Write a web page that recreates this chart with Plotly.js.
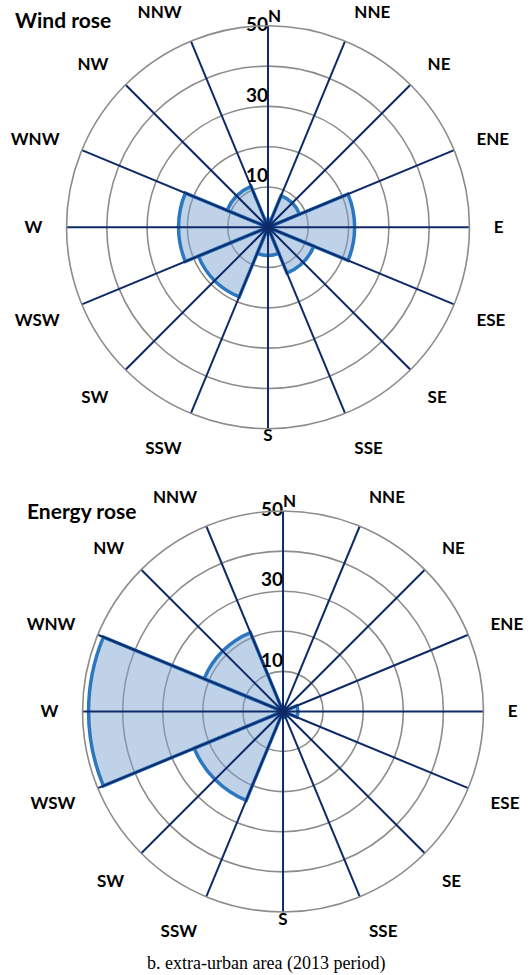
<!DOCTYPE html>
<html>
<head>
<meta charset="utf-8">
<script src="https://cdn.plot.ly/plotly-3.0.1.min.js"></script>
<style>html,body{margin:0;padding:0;background:#fff;}#chart{width:530px;height:975px;}</style>
</head>
<body>
<div id="chart"></div>
<script>
// ---- data ----
const dirLabels = ['N','NNE','NE','ENE','E','ESE','SE','SSE','S','SSW','SW','WSW','W','WNW','NW','NNW'];
const sectors = ['N','NE','E','SE','S','SW','W','NW'];
const windFreq = [2, 8.5, 21.5, 12.3, 7, 18.7, 22.2, 11];
const energyFreq = [1, 1, 3.7, 1.5, 1, 24, 48.5, 21.3];
const radialTicks = [10, 30, 50];
const radialMax = 50;
const titles = ['Wind rose', 'Energy rose'];
const caption = 'b. extra-urban area (2013 period)';

// ---- helpers ----
const step = 360 / dirLabels.length;
const angleOf = d => dirLabels.indexOf(d) * step;
const sectorTheta = sectors.map(angleOf);
const sectorWidth = 360 / sectors.length;
const labelFont = {family:'Lato', size:17, color:'#000', weight:'bold'};

function spokes(sub) {
  const r = [], th = [];
  dirLabels.forEach(d => { r.push(0, radialMax, null); th.push(angleOf(d), angleOf(d), null); });
  return {type:'scatterpolar', subplot:sub, mode:'lines', r:r, theta:th,
    line:{color:'#0f2a68', width:2}, hoverinfo:'skip', showlegend:false, cliponaxis:false};
}
function bars(sub, vals) {
  return {type:'barpolar', subplot:sub, r:vals, theta:sectorTheta, width:sectors.map(()=>sectorWidth),
    marker:{color:'rgba(130,165,210,0.5)', line:{color:'#2c78c0', width:3.5}},
    hoverinfo:'skip', showlegend:false};
}
function radialLabels(sub) {
  return {type:'scatterpolar', subplot:sub, mode:'text', r:radialTicks, theta:radialTicks.map(()=>0),
    text:radialTicks.map(String), textposition:radialTicks.map((v,i)=> i===radialTicks.length-1 ? 'middle left':'top left'),
    textfont:{family:'Lato', size:19, color:'#000', weight:'bold'}, hoverinfo:'skip', showlegend:false, cliponaxis:false};
}
function nsLabels(sub) {
  const ns = ['N','S'];
  return {type:'scatterpolar', subplot:sub, mode:'text', r:ns.map(()=>radialMax), theta:ns.map(angleOf),
    text:ns, textposition:['top right','bottom center'],
    textfont:labelFont, hoverinfo:'skip', showlegend:false, cliponaxis:false};
}
function polarCfg(xd, yd) {
  return {
    domain:{x:xd, y:yd},
    bgcolor:'rgba(0,0,0,0)',
    radialaxis:{range:[0, radialMax], tickvals:[10,20,30,40,50], showticklabels:false, ticks:'',
      showline:false, gridcolor:'#8c8c8c', gridwidth:1.6, angle:90},
    angularaxis:{direction:'clockwise', rotation:90, thetaunit:'degrees', tickmode:'array',
      tickvals:dirLabels.map(angleOf), ticktext:dirLabels.map(l => (l==='N'||l==='S') ? '' : l),
      showgrid:false, showline:true, linecolor:'#8c8c8c', linewidth:1.6,
      ticks:'outside', ticklen:20, tickcolor:'rgba(0,0,0,0)',
      tickfont:labelFont}
  };
}

const data = [
  bars('polar', windFreq), spokes('polar'), radialLabels('polar'), nsLabels('polar'),
  bars('polar2', energyFreq), spokes('polar2'), radialLabels('polar2'), nsLabels('polar2')
];

const layout = {
  width:530, height:975, margin:{l:0,r:0,t:0,b:0},
  paper_bgcolor:'#fff', showlegend:false,
  polar: polarCfg([0.1255, 0.8858], [0.5602, 0.9736]),
  polar2: polarCfg([0.1557, 0.9123], [0.0647, 0.4759]),
  annotations:[
    {text:titles[0], xref:'paper', yref:'paper', x:0.024, y:0.9805, xanchor:'left', yanchor:'middle', showarrow:false,
      font:{family:'Lato', size:21, color:'#000', weight:'bold'}},
    {text:titles[1], xref:'paper', yref:'paper', x:0.047, y:0.4759, xanchor:'left', yanchor:'middle', showarrow:false,
      font:{family:'Lato', size:21, color:'#000', weight:'bold'}},
    {text:caption, xref:'paper', yref:'paper', x:0.502, y:0.0123, xanchor:'center', yanchor:'middle', showarrow:false,
      font:{family:'Liberation Serif', size:18, color:'#000'}}
  ]
};

Plotly.newPlot('chart', data, layout, {displayModeBar:false, staticPlot:true});
</script>
</body>
</html>
